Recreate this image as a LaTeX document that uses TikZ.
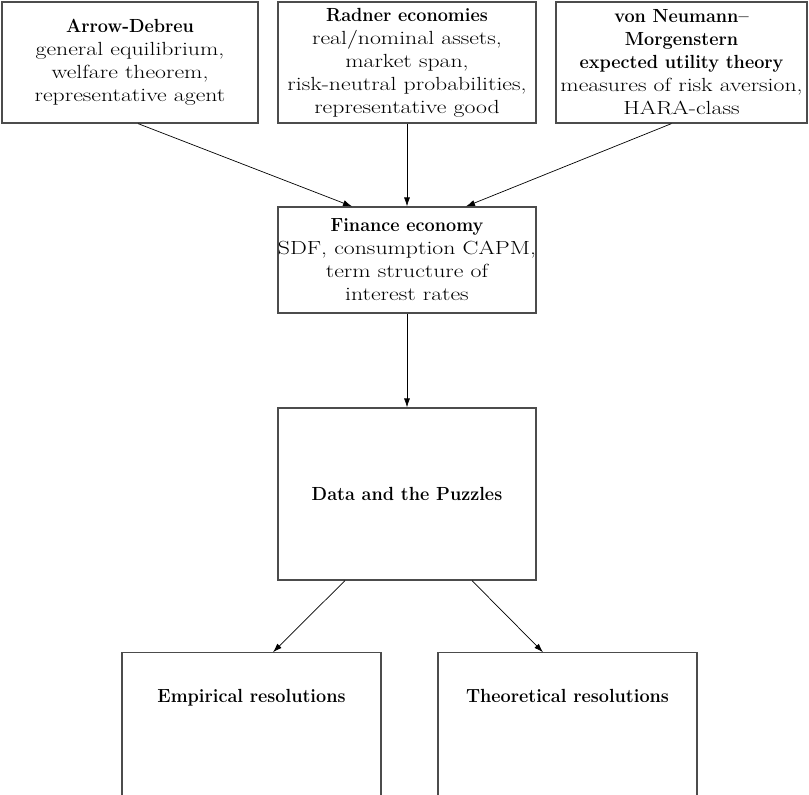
\documentclass[tikz,border=0pt]{standalone}
\usepackage{fontspec}
\setmainfont{Latin Modern Roman}[UprightFeatures={FakeStretch=1.25}, BoldFeatures={FakeStretch=0.95}]
\usetikzlibrary{positioning,arrows.meta}
\tikzset{
  box/.style={draw=black!70, line width=1.2pt, align=center, inner sep=0pt,
    minimum width=258pt, font=\fontsize{19}{23}\selectfont},
  link/.style={-{Latex[length=9pt,width=6pt]}, line width=0.7pt},
}
\begin{document}
\begin{tikzpicture}[x=1pt, y=-1pt]
  \useasboundingbox (0,0) rectangle (809,795);
  % top row
  \node[box, minimum width=256pt, minimum height=121pt] (ad) at (130,62.5)
    {\textbf{Arrow-Debreu}\\ general equilibrium,\\ welfare theorem,\\ representative agent};
  \node[box, minimum height=121pt] (rad) at (407,62.5)
    {\textbf{Radner economies}\\ real/nominal assets,\\ market span,\\ risk-neutral probabilities,\\ representative good};
  \node[box, minimum width=251pt, minimum height=121pt] (vnm) at (681.5,62.5)
    {\textbf{von Neumann--}\\ \textbf{Morgenstern}\\ \textbf{expected utility theory}\\ measures of risk aversion,\\ HARA-class};
  % middle
  \node[box, minimum height=106pt] (fin) at (407,260)
    {\textbf{Finance economy}\\ SDF, consumption CAPM,\\ term structure of\\ interest rates};
  \node[box, minimum height=172pt] (dat) at (407,494) {\textbf{Data and the Puzzles}};
  % bottom row, cut by the page
  \node[box, minimum width=259pt, anchor=base, inner ysep=36pt, text depth=130pt] (emp) at (251.5,702)
    {\textbf{Empirical resolutions}};
  \node[box, minimum width=259pt, anchor=base, inner ysep=36pt, text depth=130pt] (theo) at (567.5,702)
    {\textbf{Theoretical resolutions}};

  \draw[link] ([xshift=8pt]ad.south) -- ([xshift=-55pt]fin.north);
  \draw[link] (rad) -- (fin);
  \draw[link] ([xshift=-10pt]vnm.south) -- ([xshift=59pt]fin.north);
  \draw[link] (fin) -- (dat);
  \draw[link] ([xshift=-62pt]dat.south) -- ([xshift=21.5pt]emp.north);
  \draw[link] ([xshift=65pt]dat.south) -- ([xshift=-24.5pt]theo.north);
\end{tikzpicture}
\end{document}
